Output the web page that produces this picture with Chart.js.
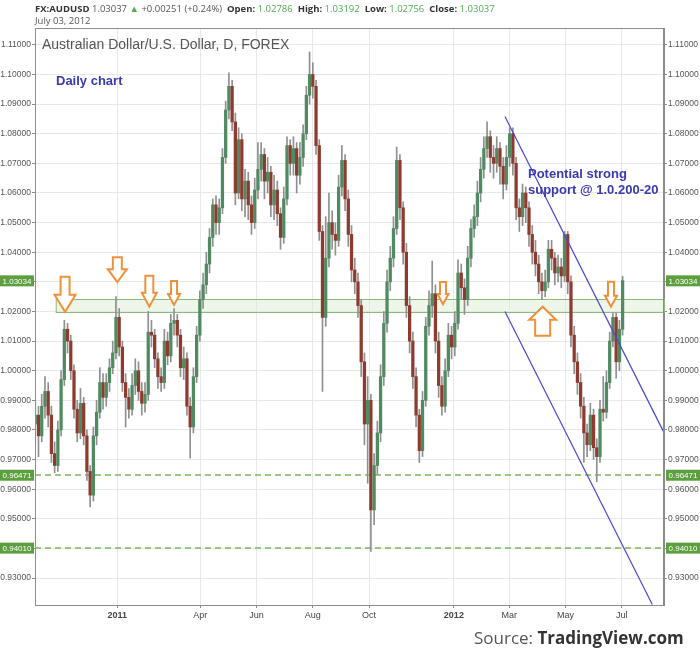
<!DOCTYPE html>
<html>
<head>
<meta charset="utf-8">
<script src="https://cdn.jsdelivr.net/npm/chart.js@4.4.0/dist/chart.umd.min.js"></script>
<style>
  body { margin: 0; background: #fff; }
  #wrap { position: relative; width: 700px; height: 657px; overflow: hidden; }
  canvas { position: absolute; left: 0; top: 0; }
  .txt { position: absolute; white-space: nowrap; line-height: 1; }
  #hdr1 { left: 35px; top: 2px; font: 9.5px "Open Sans", sans-serif; color: #555; }
  #hdr1 b { color: #333; }
  #hdr1 .g { color: #4caf50; }
  #hdr2 { left: 35px; top: 14px; font: 9.5px "Open Sans", sans-serif; color: #555; }
  #title { left: 42px; top: 36px; font: 14px "Liberation Sans", Arial, sans-serif; color: #555; }
  .note { font: bold 13px "Liberation Sans", Arial, sans-serif; color: #3a3ab0; }
  #daily { left: 56px; top: 73px; }
  #support { left: 528px; top: 166px; line-height: 16px; }
  #source { left: 474px; top: 626px; font: 17px "Open Sans", sans-serif; color: #555; }
  #source b { color: #333; }
</style>
</head>
<body>
<div id="wrap">
  <canvas id="chart" width="700" height="657"></canvas>
  <div class="txt" id="hdr1"><b>FX:AUDUSD</b> 1.03037 <span class="g">&#9650;</span> +0.00251 (+0.24%)&nbsp; <b>Open:</b> <span class="g">1.02786</span> &nbsp;<b>High:</b> <span class="g">1.03192</span> &nbsp;<b>Low:</b> <span class="g">1.02756</span> &nbsp;<b>Close:</b> <span class="g">1.03037</span></div>
  <div class="txt" id="hdr2">July 03, 2012</div>
  <div class="txt" id="title">Australian Dollar/U.S. Dollar, D, FOREX</div>
  <div class="txt note" id="daily">Daily chart</div>
  <div class="txt note" id="support">Potential strong<br>support @ 1.0.200-20</div>
  <div class="txt" id="source">Source: <b>TradingView.com</b></div>
</div>
<script>
// Candles: one bar per half week, Oct 2010 - Jul 2012 (days counted from 1 Jan 2011)
const firstDay = -89;
const stepDays = 3.5;

const opens = [
  0.982,0.985,0.978,0.988,0.993,0.985,0.972,0.968,0.980,0.997,
  1.014,1.010,1.000,0.987,0.979,0.989,0.978,0.966,0.958,0.978,
  0.986,0.996,0.991,0.996,1.001,1.006,1.018,1.008,0.996,0.991,
  0.987,0.995,1.000,0.993,0.989,0.992,1.013,1.012,1.004,0.998,
  0.996,1.010,1.005,1.016,1.017,1.012,1.001,1.004,0.988,0.981,
  0.998,1.012,1.024,1.029,1.036,1.045,1.056,1.050,1.055,1.072,
  1.088,1.096,1.084,1.060,1.078,1.058,1.064,1.056,1.050,1.061,
  1.068,1.073,1.064,1.067,1.056,1.061,1.053,1.045,1.058,1.076,
  1.070,1.075,1.066,1.072,1.080,1.093,1.100,1.096,1.076,1.047,
  1.018,1.038,1.050,1.046,1.044,1.062,1.071,1.058,1.046,1.034,
  1.030,1.022,1.003,0.982,0.990,0.953,0.968,0.979,0.998,1.016,
  1.030,1.038,1.048,1.071,1.055,1.040,1.022,1.010,0.998,0.985,
  0.973,0.990,1.015,1.022,1.026,1.010,0.995,0.988,1.000,1.012,
  1.008,1.016,1.033,1.028,1.024,1.038,1.048,1.052,1.060,1.068,
  1.075,1.079,1.072,1.070,1.075,1.069,1.063,1.072,1.080,1.070,
  1.055,1.052,1.060,1.055,1.046,1.040,1.036,1.030,1.027,1.030,
  1.041,1.038,1.033,1.035,1.032,1.046,1.030,1.012,1.003,0.996,
  0.988,0.979,0.975,0.985,0.974,0.971,0.987,0.986,0.996,1.010,
  1.018,1.003,1.014
];
const highs = [
  0.990,0.988,0.992,0.998,0.996,0.988,0.976,0.983,1.000,1.017,
  1.016,1.012,1.002,0.990,0.994,0.991,0.980,0.968,0.981,0.990,
  1.001,0.999,0.999,1.004,1.010,1.025,1.021,1.010,0.999,0.994,
  0.999,1.004,1.003,0.996,0.996,1.020,1.017,1.014,1.006,1.001,
  1.014,1.013,1.019,1.021,1.019,1.014,1.008,1.006,0.991,1.001,
  1.015,1.027,1.033,1.040,1.048,1.058,1.059,1.058,1.075,1.091,
  1.1006,1.098,1.087,1.082,1.080,1.068,1.067,1.059,1.065,1.077,
  1.077,1.075,1.072,1.069,1.066,1.064,1.055,1.062,1.079,1.078,
  1.079,1.077,1.077,1.083,1.096,1.1076,1.104,1.098,1.078,1.049,
  1.052,1.060,1.054,1.050,1.066,1.076,1.073,1.061,1.049,1.038,
  1.033,1.024,1.006,0.998,0.992,0.972,0.983,1.002,1.020,1.034,
  1.042,1.052,1.0755,1.073,1.057,1.043,1.025,1.013,1.001,0.987,
  0.993,1.018,1.027,1.037,1.029,1.013,0.998,1.004,1.016,1.015,
  1.020,1.0374,1.036,1.031,1.042,1.051,1.056,1.064,1.072,1.079,
  1.084,1.081,1.076,1.079,1.077,1.072,1.076,1.082,1.082,1.072,
  1.058,1.063,1.062,1.057,1.049,1.044,1.039,1.033,1.034,1.044,
  1.044,1.040,1.039,1.038,1.047,1.047,1.032,1.015,1.006,0.999,
  0.991,0.982,0.989,0.987,0.977,0.990,0.998,1.000,1.013,1.0195,
  1.0195,1.017,1.0319
];
const lows = [
  0.975,0.971,0.976,0.984,0.981,0.969,0.9655,0.966,0.978,0.995,
  1.006,0.997,0.984,0.976,0.977,0.975,0.963,0.954,0.956,0.975,
  0.984,0.987,0.988,0.993,0.999,1.004,1.005,0.993,0.981,0.984,
  0.985,0.992,0.990,0.985,0.986,0.990,1.008,1.001,0.994,0.993,
  0.994,1.002,1.003,1.012,1.008,0.998,0.997,0.985,0.9705,0.979,
  0.996,1.010,1.021,1.026,1.033,1.042,1.046,1.046,1.053,1.070,
  1.085,1.081,1.056,1.058,1.054,1.052,1.051,1.046,1.048,1.058,
  1.064,1.058,1.060,1.052,1.051,1.049,1.041,1.043,1.056,1.066,
  1.066,1.060,1.063,1.069,1.078,1.090,1.092,1.073,1.044,0.993,
  1.015,1.035,1.041,1.039,1.042,1.059,1.054,1.042,1.030,1.026,
  1.018,0.998,0.975,0.962,0.939,0.948,0.965,0.976,0.995,1.013,
  1.027,1.035,1.046,1.051,1.036,1.018,1.006,0.994,0.981,0.969,
  0.971,0.988,1.012,1.018,1.006,0.991,0.985,0.986,0.998,1.004,
  1.005,1.014,1.024,1.019,1.022,1.035,1.045,1.049,1.057,1.065,
  1.072,1.067,1.065,1.067,1.063,1.058,1.061,1.069,1.066,1.051,
  1.047,1.049,1.050,1.042,1.036,1.032,1.026,1.024,1.025,1.028,
  1.034,1.029,1.030,1.028,1.030,1.026,1.008,0.999,0.992,0.984,
  0.969,0.971,0.973,0.970,0.9625,0.969,0.983,0.984,0.994,1.008,
  0.9975,1.000,1.012
];
const closes = [
  0.985,0.978,0.988,0.993,0.985,0.972,0.968,0.980,0.997,1.014,
  1.010,1.000,0.987,0.979,0.989,0.978,0.966,0.958,0.978,0.986,
  0.996,0.991,0.996,1.001,1.006,1.018,1.008,0.996,0.991,0.987,
  0.995,1.000,0.993,0.989,0.992,1.013,1.012,1.004,0.998,0.996,
  1.010,1.005,1.016,1.017,1.012,1.001,1.004,0.988,0.981,0.998,
  1.012,1.024,1.029,1.036,1.045,1.056,1.050,1.055,1.072,1.088,
  1.096,1.084,1.060,1.078,1.058,1.064,1.056,1.050,1.061,1.068,
  1.073,1.064,1.067,1.056,1.061,1.053,1.045,1.058,1.076,1.070,
  1.075,1.066,1.072,1.080,1.093,1.100,1.096,1.076,1.047,1.018,
  1.038,1.050,1.046,1.044,1.062,1.071,1.058,1.046,1.034,1.030,
  1.022,1.003,0.982,0.990,0.953,0.968,0.979,0.998,1.016,1.030,
  1.038,1.048,1.071,1.055,1.040,1.022,1.010,0.998,0.985,0.973,
  0.990,1.015,1.022,1.026,1.010,0.995,0.988,1.000,1.012,1.008,
  1.016,1.033,1.028,1.024,1.038,1.048,1.052,1.060,1.068,1.075,
  1.079,1.072,1.070,1.075,1.069,1.063,1.072,1.080,1.070,1.055,
  1.052,1.060,1.055,1.046,1.040,1.036,1.030,1.027,1.030,1.041,
  1.038,1.033,1.035,1.032,1.046,1.030,1.012,1.003,0.996,0.988,
  0.979,0.975,0.985,0.974,0.971,0.987,0.986,0.996,1.010,1.018,
  1.003,1.014,1.0304
];

// Axis ticks
const monthDays = [0, 90, 151, 212, 273, 365, 425, 486, 547];
const monthLabels = ["2011", "Apr", "Jun", "Aug", "Oct", "2012", "Mar", "May", "Jul"];
const yTicks = [0.93, 0.94, 0.95, 0.96, 0.97, 0.98, 0.99, 1.00, 1.01, 1.02, 1.03, 1.04, 1.05, 1.06, 1.07, 1.08, 1.09, 1.10, 1.11];

// Drawn annotations (day, price)
const trendUpper = [{ x: 420.4, y: 1.0858 }, { x: 592.1, y: 0.9796 }];
const trendLower = [{ x: 420.4, y: 1.0200 }, { x: 580.2, y: 0.9211 }];
const bandLevels = [1.0196, 1.0241];
const bandStartDay = -66.8;
const dashedLevels = [0.96471, 0.94010];
const priceTags = [1.03034, 0.96471, 0.94010];
const arrowTips = [
  { day: -56.7, price: 1.0199, dir: "down", h: 35, head: 21, shaft: 9, headH: 17 },
  { day: 0, price: 1.0299, dir: "down", h: 25, head: 19, shaft: 9, headH: 13 },
  { day: 34.7, price: 1.0216, dir: "down", h: 31, head: 15, shaft: 8, headH: 14 },
  { day: 61.5, price: 1.0222, dir: "down", h: 24, head: 12, shaft: 6, headH: 11 },
  { day: 353.2, price: 1.0225, dir: "down", h: 22, head: 11, shaft: 6, headH: 10 },
  { day: 535.4, price: 1.0216, dir: "down", h: 25, head: 12, shaft: 6, headH: 11 },
  { day: 461.3, price: 1.0216, dir: "up", h: 29, head: 27, shaft: 15, headH: 13 }
];

const candleDays = opens.map((_, i) => firstDay + i * stepDays);
const upColor = "#4f8a60";
const downColor = "#8e3a2f";
const gridColor = "#e8e8e8";
const frameColor = "#8c8c8c";

Chart.defaults.font.family = '"Liberation Sans", Arial, sans-serif';
Chart.defaults.font.size = 8.5;
Chart.defaults.color = "#555";

// Band, dashed levels, arrows, frame and price tags
const overlay = {
  id: "overlay",
  beforeDatasetsDraw(chart) {
    const { ctx, chartArea: a, scales: { x, y } } = chart;
    ctx.save();
    const x0 = x.getPixelForValue(bandStartDay);
    const yTop = y.getPixelForValue(bandLevels[1]);
    const yBot = y.getPixelForValue(bandLevels[0]);
    ctx.fillStyle = "rgba(214,236,204,0.45)";
    ctx.fillRect(x0, yTop, a.right - x0, yBot - yTop);
    ctx.strokeStyle = "#8cbc7c";
    ctx.lineWidth = 1;
    ctx.strokeRect(x0 + 0.5, Math.round(yTop) + 0.5, a.right - x0, Math.round(yBot - yTop));

    ctx.strokeStyle = "#7bb85e";
    ctx.lineWidth = 1.6;
    ctx.setLineDash([6, 4]);
    dashedLevels.forEach(v => {
      const py = Math.round(y.getPixelForValue(v));
      ctx.beginPath();
      ctx.moveTo(a.left, py);
      ctx.lineTo(a.right, py);
      ctx.stroke();
    });
    ctx.restore();
  },
  afterDatasetsDraw(chart) {
    const { ctx, scales: { x, y } } = chart;
    ctx.save();
    ctx.strokeStyle = "#f0913a";
    ctx.fillStyle = "#fff";
    ctx.lineWidth = 2;
    ctx.lineJoin = "miter";
    arrowTips.forEach(t => {
      const px = x.getPixelForValue(t.day);
      const tip = y.getPixelForValue(t.price);
      const s = t.dir === "down" ? 1 : -1;
      const end = tip - s * t.h;
      const neck = tip - s * t.headH;
      ctx.beginPath();
      ctx.moveTo(px - t.shaft / 2, end);
      ctx.lineTo(px + t.shaft / 2, end);
      ctx.lineTo(px + t.shaft / 2, neck);
      ctx.lineTo(px + t.head / 2, neck);
      ctx.lineTo(px, tip);
      ctx.lineTo(px - t.head / 2, neck);
      ctx.lineTo(px - t.shaft / 2, neck);
      ctx.closePath();
      ctx.fill();
      ctx.stroke();
    });
    ctx.restore();
  },
  afterDraw(chart) {
    const { ctx, chartArea: a, scales: { y } } = chart;
    ctx.save();
    ctx.strokeStyle = frameColor;
    ctx.lineWidth = 1;
    ctx.strokeRect(a.left + 0.5, a.top + 0.5, a.right - a.left - 1, a.bottom - a.top);
    ctx.font = '8px "Liberation Sans", Arial, sans-serif';
    ctx.textBaseline = "middle";
    ctx.textAlign = "center";
    priceTags.forEach(v => {
      const py = y.getPixelForValue(v);
      ctx.fillStyle = "#5d9e3e";
      ctx.fillRect(0, py - 5.5, 34, 11);
      ctx.fillRect(666, py - 5.5, 34, 11);
      ctx.fillStyle = "#fff";
      ctx.fillText(v.toFixed(5), 17, py + 0.5);
      ctx.fillText(v.toFixed(5), 683, py + 0.5);
    });
    ctx.restore();
  }
};

const yAxis = (position, onChart) => ({
  type: "linear",
  position: position,
  min: 0.9209,
  max: 1.1157,
  afterBuildTicks: scale => { scale.ticks = yTicks.map(v => ({ value: v })); },
  afterFit: scale => { scale.width = position === "left" ? 35 : 36; },
  grid: { color: gridColor, drawOnChartArea: onChart, tickColor: frameColor, tickLength: 3 },
  border: { display: true, color: frameColor },
  ticks: { padding: 1, callback: v => v.toFixed(5), color: "#555" }
});

new Chart(document.getElementById("chart"), {
  type: "bar",
  data: {
    datasets: [
      {
        type: "line",
        data: trendUpper,
        borderColor: "#4848d4",
        borderWidth: 1.2,
        pointRadius: 0,
        yAxisID: "y",
        order: 0
      },
      {
        type: "line",
        data: trendLower,
        borderColor: "#4848d4",
        borderWidth: 1.2,
        pointRadius: 0,
        yAxisID: "y",
        order: 0
      },
      {
        data: candleDays.map((d, i) => ({ x: d, y: [lows[i], highs[i]] })),
        backgroundColor: "#8f8f8f",
        barThickness: 1,
        grouped: false,
        yAxisID: "y",
        order: 2
      },
      {
        data: candleDays.map((d, i) => ({ x: d, y: [opens[i], closes[i]] })),
        backgroundColor: ctx => closes[ctx.dataIndex] >= opens[ctx.dataIndex] ? upColor : downColor,
        barThickness: 2.6,
        grouped: false,
        yAxisID: "y",
        order: 1
      }
    ]
  },
  options: {
    responsive: false,
    animation: false,
    layout: { padding: { top: 28, bottom: 32, left: 0, right: 0 } },
    plugins: { legend: { display: false }, tooltip: { enabled: false } },
    scales: {
      x: {
        type: "linear",
        min: -89.3,
        max: 592.9,
        offset: false,
        afterBuildTicks: scale => { scale.ticks = monthDays.map(v => ({ value: v })); },
        afterFit: scale => { scale.height = 20; },
        grid: { offset: false, color: gridColor, tickColor: frameColor, tickLength: 3 },
        border: { display: true, color: frameColor },
        ticks: {
          autoSkip: false,
          maxRotation: 0,
          padding: 2,
          color: "#444",
          callback: v => monthLabels[monthDays.indexOf(v)],
          font: ctx => ({ size: 9, weight: /^\d{4}$/.test(monthLabels[ctx.index] || "") ? "bold" : "normal" })
        }
      },
      y: yAxis("left", true),
      y2: yAxis("right", false)
    }
  },
  plugins: [overlay]
});
</script>
</body>
</html>
